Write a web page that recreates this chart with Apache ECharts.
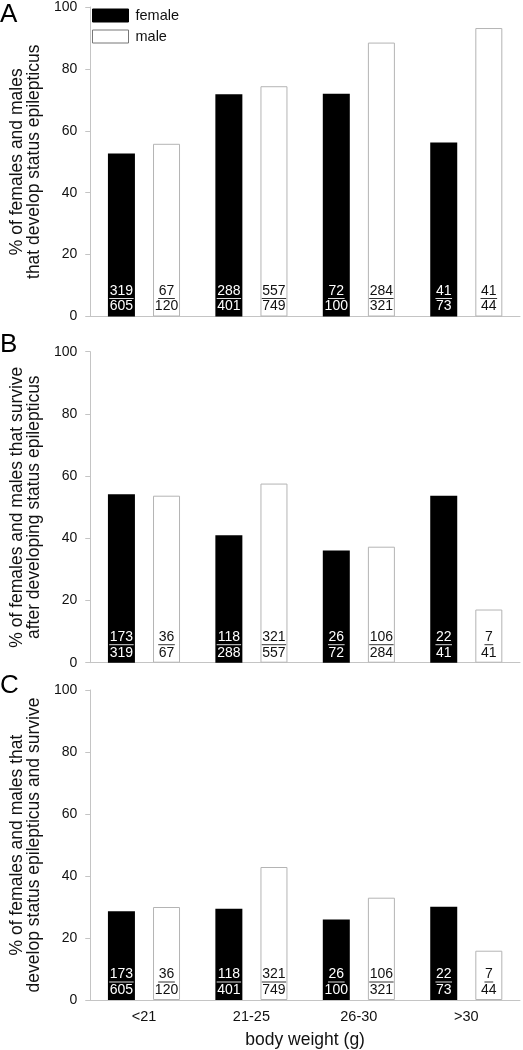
<!DOCTYPE html>
<html>
<head>
<meta charset="utf-8">
<script src="https://cdn.jsdelivr.net/npm/echarts@6/dist/echarts.min.js"></script>
<style>
html,body{margin:0;padding:0;background:#fff;}
#chart{width:523px;height:1050px;}
</style>
</head>
<body>
<div id="chart"></div>
<script>
// ---- data ----
const categories = ['<21', '21-25', '26-30', '>30'];
const yTicks = [0, 20, 40, 60, 80, 100];

// Panel A: % that develop status epilepticus
const femaleA = [52.7, 71.8, 72.0, 56.2];
const maleA = [55.8, 74.4, 88.5, 93.2];
const femaleNumA = [319, 288, 72, 41];
const femaleDenA = [605, 401, 100, 73];
const maleNumA = [67, 557, 284, 41];
const maleDenA = [120, 749, 321, 44];

// Panel B: % that survive after developing SE
const femaleB = [54.2, 41.0, 36.1, 53.7];
const maleB = [53.7, 57.6, 37.3, 17.1];
const femaleNumB = [173, 118, 26, 22];
const femaleDenB = [319, 288, 72, 41];
const maleNumB = [36, 321, 106, 7];
const maleDenB = [67, 557, 284, 41];

// Panel C: % that develop SE and survive
const femaleC = [28.6, 29.4, 26.0, 30.1];
const maleC = [30.0, 42.9, 33.0, 15.9];
const femaleNumC = [173, 118, 26, 22];
const femaleDenC = [605, 401, 100, 73];
const maleNumC = [36, 321, 106, 7];
const maleDenC = [120, 749, 321, 44];

const yTitles = [
  '% of females and males\nthat develop status epilepticus',
  '% of females and males that survive\nafter developing status epilepticus',
  '% of females and males that\ndevelop status epilepticus and survive'
];
const panelLetters = ['A', 'B', 'C'];
const xTitle = 'body weight (g)';

// ---- chart ----
const FONT = '"Liberation Sans", Arial, sans-serif';
const AXIS_GRAY = '#c4c4c4';
const grids = [
  {left: 76, right: 3, top: 5.5, height: 311},
  {left: 76, right: 3, top: 351.7, height: 311},
  {left: 76, right: 3, top: 690, height: 311}
];
const letterTops = [2, 332, 673];

function makeRich(color, lineColor) {
  const r = {
    n: {fontSize: 14, fontFamily: FONT, color: color, lineHeight: 13, align: 'center'},
    d: {fontSize: 14, fontFamily: FONT, color: color, lineHeight: 14, align: 'center'}
  };
  [1, 2, 3].forEach(k => {
    r['u' + k] = {width: k * 7.8 + 1, height: 1, lineHeight: 2, backgroundColor: lineColor, align: 'center'};
  });
  return r;
}
function fracFormatter(nums, dens) {
  return function (p) {
    const n = nums[p.dataIndex];
    return '{n|' + n + '}\n{u' + String(n).length + '|}\n{d|' + dens[p.dataIndex] + '}';
  };
}

const xAxes = [], yAxes = [], series = [];
const panelData = [
  [femaleA, maleA, femaleNumA, femaleDenA, maleNumA, maleDenA],
  [femaleB, maleB, femaleNumB, femaleDenB, maleNumB, maleDenB],
  [femaleC, maleC, femaleNumC, femaleDenC, maleNumC, maleDenC]
];
panelData.forEach((pd, i) => {
  const last = i === 2;
  xAxes.push({
    type: 'category', gridIndex: i, data: categories,
    axisLine: {show: true, lineStyle: {color: AXIS_GRAY, width: 1}},
    axisTick: {show: false},
    axisLabel: {show: last, fontSize: 14.5, fontFamily: FONT, color: '#111', margin: 9},
    name: last ? xTitle : '', nameLocation: 'middle', nameGap: 31,
    nameTextStyle: {fontSize: 17.5, fontFamily: FONT, color: '#111'},
    splitLine: {show: false}
  });
  yAxes.push({
    type: 'value', gridIndex: i, min: 0, max: 100, interval: 20,
    axisLine: {show: true, lineStyle: {color: AXIS_GRAY, width: 1}},
    axisTick: {show: true, length: 5, lineStyle: {color: AXIS_GRAY}},
    axisLabel: {fontSize: 14, fontFamily: FONT, color: '#111', margin: 13,
      formatter: v => (yTicks.indexOf(v) >= 0 ? String(v) : '')},
    splitLine: {show: false},
    name: yTitles[i], nameLocation: 'middle', nameGap: 39, nameRotate: 90,
    nameTextStyle: {fontSize: 17.5, fontFamily: FONT, color: '#111', lineHeight: 17}
  });
  series.push({
    name: 'female', type: 'bar', xAxisIndex: i, yAxisIndex: i,
    data: pd[0], barWidth: 27, barGap: '67%',
    itemStyle: {color: '#000', borderColor: '#000', borderWidth: 0},
    label: {show: true, position: 'insideBottom', distance: 3,
      formatter: fracFormatter(pd[2], pd[3]), rich: makeRich('#fff', '#ddd')},
    emphasis: {disabled: true}, animation: false
  });
  series.push({
    name: 'male', type: 'bar', xAxisIndex: i, yAxisIndex: i,
    data: pd[1], barWidth: 27, barGap: '67%',
    itemStyle: {color: '#fff', borderColor: '#b4b4b4', borderWidth: 1},
    label: {show: true, position: 'insideBottom', distance: 3,
      formatter: fracFormatter(pd[4], pd[5]), rich: makeRich('#111', '#333')},
    emphasis: {disabled: true}, animation: false
  });
});

const chart = echarts.init(document.getElementById('chart'), null, {renderer: 'canvas'});
chart.setOption({
  animation: false,
  backgroundColor: '#fff',
  textStyle: {fontFamily: FONT},
  grid: grids,
  xAxis: xAxes,
  yAxis: yAxes,
  legend: {
    data: [
      {name: 'female', itemStyle: {color: '#000', borderColor: '#000', borderWidth: 1}},
      {name: 'male', itemStyle: {color: '#fff', borderColor: '#777', borderWidth: 1}}
    ],
    orient: 'vertical', left: 92, top: 8, padding: 0,
    itemWidth: 36, itemHeight: 13, itemGap: 6,
    icon: 'rect', selectedMode: false,
    textStyle: {fontSize: 14.5, fontFamily: FONT, color: '#111', padding: [0, 0, 0, 2]}
  },
  graphic: panelLetters.map((t, i) => ({
    type: 'text', left: 0, top: letterTops[i],
    style: {text: t, font: '26px ' + FONT, fill: '#000'}
  })),
  series: series
});
</script>
</body>
</html>
